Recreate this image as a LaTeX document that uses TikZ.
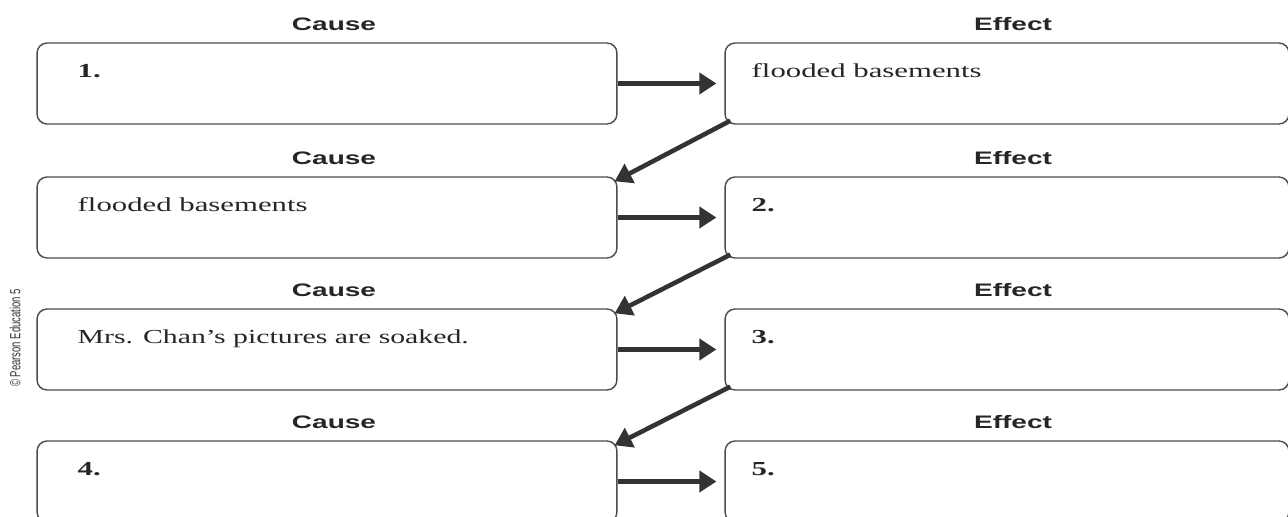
\documentclass[tikz,border=0pt]{standalone}
\usepackage{fontspec}
\setmainfont{Liberation Serif}
\setsansfont{Liberation Sans}
\usepackage{tikz}
\usetikzlibrary{arrows.meta}
\usetikzlibrary{positioning}
\newcommand{\wide}[1]{\scalebox{1.55}[1]{#1}}
\begin{document}
\begin{tikzpicture}[x=0.02cm,y=-0.02cm,>={Triangle[length=0.34cm,width=0.42cm]},
    box node/.style={draw=black!70,rounded corners=0.2cm,line width=0.8pt,minimum height=1.62cm,inner sep=0pt},
    cause node/.style={box node,minimum width=11.6cm},
    effect node/.style={box node,minimum width=11.28cm},
    head node/.style={font=\fontsize{10.3}{12}\sffamily\bfseries,text=black!85,inner sep=0pt},
    label node/.style={font=\fontsize{11.3}{13}\selectfont,text=black!85,anchor=base west,inner sep=0pt},
    link/.style={->,line width=2.6pt,color=black!80}]
   \useasboundingbox (0,0) rectangle (1288,517);
   \clip (0,0) rectangle (1288,517);
   \begin{scope}
      % boxes
      \node[cause node] (c1) at (327,83.5) {};
      \node[effect node] (e1) at (1007,83.5) {};
      \node[cause node] (c2) at (327,217.5) {};
      \node[effect node] (e2) at (1007,217.5) {};
      \node[cause node] (c3) at (327,349.5) {};
      \node[effect node] (e3) at (1007,349.5) {};
      \node[cause node] (c4) at (327,481.5) {};
      \node[effect node] (e4) at (1007,481.5) {};
      % headings
      \node[head node] (hc1) at (334,24) {\wide{Cause}};
      \node[head node] (he1) at (1013,24) {\wide{Effect}};
      \node[head node] (hc2) at (334,158) {\wide{Cause}};
      \node[head node] (he2) at (1013,158) {\wide{Effect}};
      \node[head node] (hc3) at (334,290) {\wide{Cause}};
      \node[head node] (he3) at (1013,290) {\wide{Effect}};
      \node[head node] (hc4) at (334,422) {\wide{Cause}};
      \node[head node] (he4) at (1013,422) {\wide{Effect}};
      % texts
      \node[label node] (tc1) at ([shift={(41,35)}]c1.north west) {\wide{\textbf{1.}}};
      \node[label node] (te1) at ([shift={(27,35)}]e1.north west) {\wide{flooded basements}};
      \node[label node] (tc2) at ([shift={(41,35)}]c2.north west) {\wide{flooded basements}};
      \node[label node] (te2) at ([shift={(27,35)}]e2.north west) {\wide{\textbf{2.}}};
      \node[label node] (tc3) at ([shift={(41,35)}]c3.north west) {\scalebox{1.5}[1]{Mrs. Chan’s pictures are soaked.}};
      \node[label node] (te3) at ([shift={(27,35)}]e3.north west) {\wide{\textbf{3.}}};
      \node[label node] (tc4) at ([shift={(41,35)}]c4.north west) {\wide{\textbf{4.}}};
      \node[label node] (te4) at ([shift={(27,35)}]e4.north west) {\wide{\textbf{5.}}};
      \node[font=\fontsize{5.4}{6}\sffamily,text=black!80,rotate=90,inner sep=0pt] (copy) at (15,338) {\scalebox{1}[1.55]{© Pearson Education 5}};
      % arrows
      \path[link,shorten >=0.16cm] (c1) edge (e1);
      \path[link,shorten >=0.16cm] (c2) edge (e2);
      \path[link,shorten >=0.16cm] (c3) edge (e3);
      \path[link,shorten >=0.16cm] (c4) edge (e4);
      \path[link] ([shift={(6,-4)}]e1.south west) edge ([shift={(-3,5)}]c2.north east);
      \path[link] ([shift={(6,-4)}]e2.south west) edge ([shift={(-3,5)}]c3.north east);
      \path[link] ([shift={(6,-4)}]e3.south west) edge ([shift={(-3,5)}]c4.north east);
    \end{scope}
  \end{tikzpicture}
\end{document}
